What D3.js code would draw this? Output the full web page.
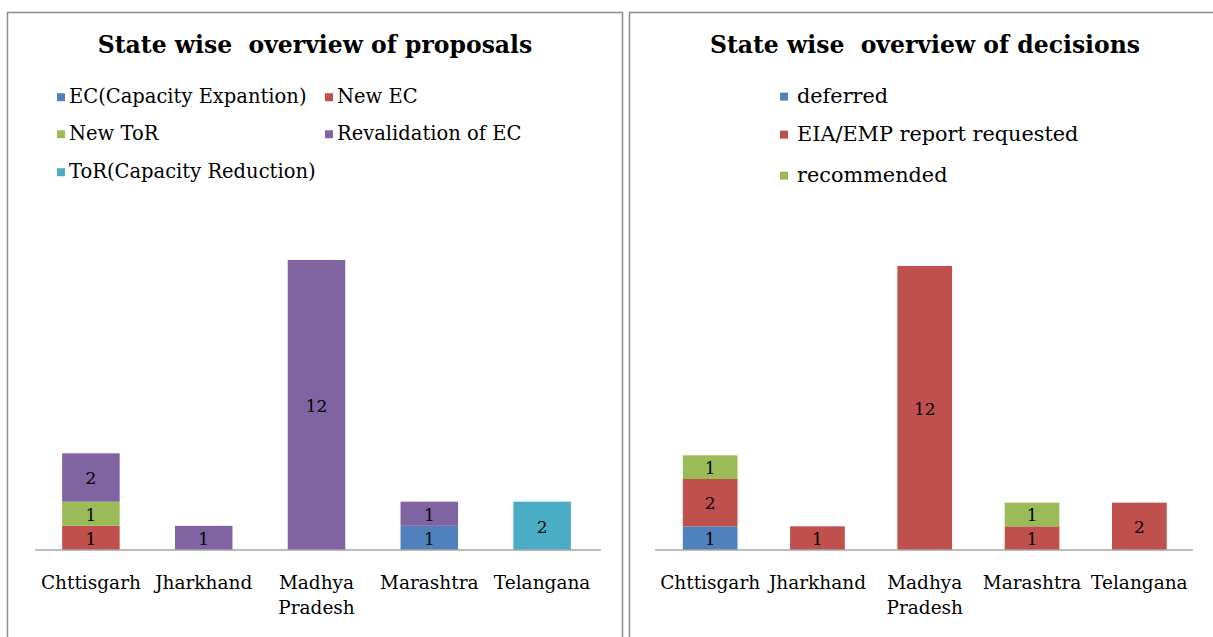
<!DOCTYPE html>
<html>
<head>
<meta charset="utf-8">
<script src="https://cdn.jsdelivr.net/npm/d3@7"></script>
<style>
  body { margin: 0; background: #fff; }
  svg text { font-family: "DejaVu Serif", serif !important; fill: #000; white-space: pre; }
</style>
</head>
<body>
<div id="chart"></div>
<script>
// states, shared by both charts
var states = ["Chttisgarh", "Jharkhand", "Madhya Pradesh", "Marashtra", "Telangana"];

// proposals chart
var proposalSeries = ["EC(Capacity Expantion)", "New EC", "New ToR", "Revalidation of EC", "ToR(Capacity Reduction)"];
var ecExpansion   = [0, 0, 0, 1, 0];
var newEC         = [1, 0, 0, 0, 0];
var newToR        = [1, 0, 0, 0, 0];
var revalidation  = [2, 1, 12, 1, 0];
var torReduction  = [0, 0, 0, 0, 2];

// decisions chart
var decisionSeries = ["deferred", "EIA/EMP report requested", "recommended"];
var deferred    = [1, 0, 0, 0, 0];
var eiaRequested = [2, 1, 12, 1, 2];
var recommended = [1, 0, 0, 1, 0];

var yMax = 12;

var svg = d3.select("#chart").append("svg")
    .attr("width", 1213)
    .attr("height", 637);

// panel frames
svg.append("rect")
    .attr("x", 7.5).attr("y", 12.5).attr("width", 615).attr("height", 640)
    .attr("fill", "none").attr("stroke", "#8c8c8c").attr("stroke-width", 1.5);
svg.append("rect")
    .attr("x", 629.5).attr("y", 12.5).attr("width", 600).attr("height", 640)
    .attr("fill", "none").attr("stroke", "#8c8c8c").attr("stroke-width", 1.5);

function drawChart(opts) {
  var g = svg.append("g");

  var rows = states.map(function (s, i) {
    var r = {state: s};
    opts.series.forEach(function (name, j) { r[name] = opts.values[j][i]; });
    return r;
  });
  var stacked = d3.stack().keys(opts.series)(rows);

  var x = d3.scaleBand()
    .domain(states)
    .range(opts.xRange)
    .paddingInner(opts.pad)
    .paddingOuter(opts.pad / 2);
  var y = d3.scaleLinear()
    .domain([0, yMax])
    .range(opts.yRange);

  g.append("text")
    .attr("x", opts.titleX).attr("y", 53)
    .attr("text-anchor", "middle")
    .style("font-size", "23.5px").style("font-weight", "bold")
    .text(opts.title);

  // legend
  var lg = g.selectAll(".leg").data(opts.series).enter().append("g")
    .attr("transform", function (d, i) { return "translate(" + opts.legendPos[i][0] + "," + opts.legendPos[i][1] + ")"; });
  lg.append("rect")
    .attr("x", 0).attr("y", -opts.legendSize * 0.5)
    .attr("width", 8).attr("height", 8)
    .attr("fill", function (d, i) { return opts.colors[i]; });
  lg.append("text")
    .attr("x", opts.legendGap).attr("y", 0)
    .style("font-size", opts.legendSize + "px")
    .text(function (d) { return d; });

  // bars
  var layer = g.selectAll(".layer").data(stacked).enter().append("g")
    .attr("fill", function (d, i) { return opts.colors[i]; });
  layer.selectAll("rect").data(function (d) { return d; }).enter().append("rect")
    .attr("x", function (d) { return x(d.data.state); })
    .attr("width", x.bandwidth())
    .attr("y", function (d) { return y(d[1]); })
    .attr("height", function (d) { return y(d[0]) - y(d[1]); });
  layer.selectAll("text").data(function (d) { return d.filter(function (p) { return p[1] - p[0] > 0; }); })
    .enter().append("text")
    .attr("x", function (d) { return x(d.data.state) + x.bandwidth() / 2; })
    .attr("y", function (d) { return (y(d[0]) + y(d[1])) / 2; })
    .attr("dy", "0.4em")
    .attr("text-anchor", "middle")
    .style("font-size", "17px")
    .text(function (d) { return d[1] - d[0]; });

  // axis
  var axis = g.append("g")
    .attr("transform", "translate(0," + opts.yRange[0] + ")")
    .call(d3.axisBottom(x).tickSize(0).tickPadding(0));
  axis.select(".domain")
    .attr("stroke", "#a6a6a6").attr("stroke-width", 1.5)
    .attr("d", "M" + opts.axisX[0] + ",0H" + opts.axisX[1]);
  axis.selectAll(".tick text").remove();
  axis.selectAll(".tick").append("text")
    .attr("text-anchor", "middle")
    .style("font-size", "18.5px")
    .attr("fill", "#000")
    .selectAll("tspan")
    .data(function (d) { return d === "Madhya Pradesh" ? ["Madhya", "Pradesh"] : [d]; })
    .enter().append("tspan")
    .attr("x", 0)
    .attr("y", function (d, i) { return 39 + i * 25; })
    .text(function (d) { return d; });
}

drawChart({
  title: "State wise  overview of proposals",
  titleX: 315,
  series: proposalSeries,
  values: [ecExpansion, newEC, newToR, revalidation, torReduction],
  colors: ["#4f81bd", "#c0504d", "#9bbb59", "#8064a2", "#4bacc6"],
  xRange: [34.5, 598.5],
  pad: 0.49,
  yRange: [550, 260],
  axisX: [35, 601],
  legendSize: 19.5,
  legendGap: 12,
  legendPos: [[57, 103], [325, 103], [57, 140], [325, 140], [57, 178]]
});

drawChart({
  title: "State wise  overview of decisions",
  titleX: 925,
  series: decisionSeries,
  values: [deferred, eiaRequested, recommended],
  colors: ["#4f81bd", "#c0504d", "#9bbb59"],
  xRange: [656.5, 1193],
  pad: 0.49,
  yRange: [550, 266],
  axisX: [655, 1193],
  legendSize: 20.8,
  legendGap: 17,
  legendPos: [[780, 103], [780, 141], [780, 182]]
});
</script>
</body>
</html>
